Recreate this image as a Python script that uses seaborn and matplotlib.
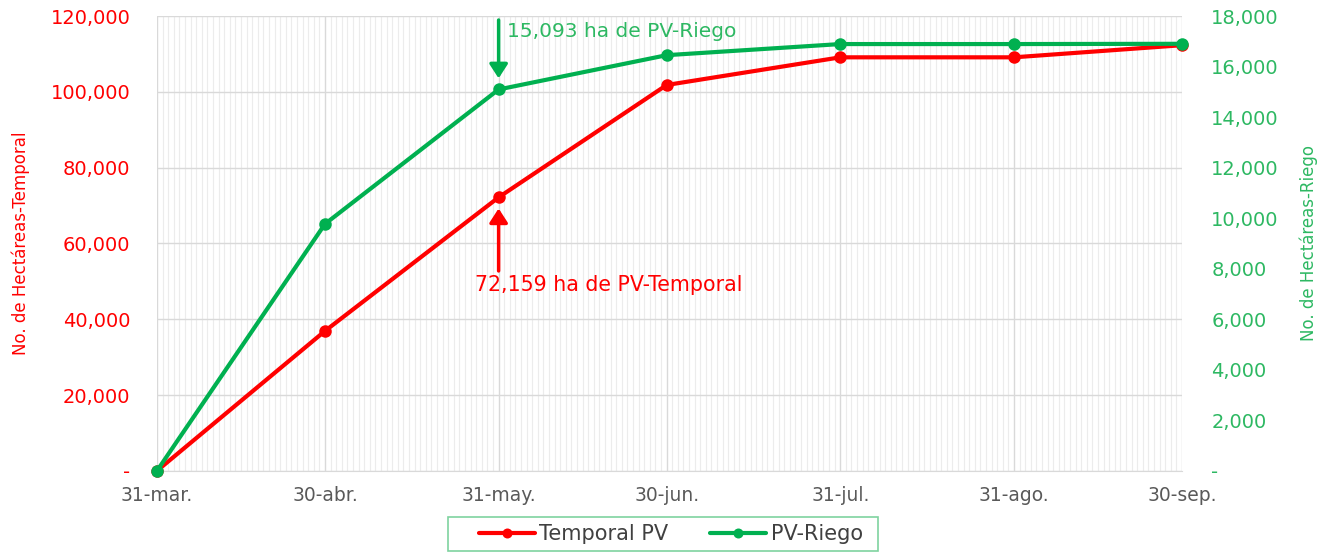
import pandas as pd
import matplotlib.pyplot as plt
import matplotlib.dates as mdates
from matplotlib.patches import Rectangle
from matplotlib.ticker import FuncFormatter
import seaborn as sns

fechas = ['2021-03-31', '2021-04-30', '2021-05-31', '2021-06-30',
          '2021-07-31', '2021-08-31', '2021-09-30']
etiquetas = ['31-mar.', '30-abr.', '31-may.', '30-jun.', '31-jul.', '31-ago.', '30-sep.']
temporal = [0, 36900, 72159, 101800, 109100, 109100, 112300]
riego = [0, 9770, 15093, 16450, 16890, 16890, 16900]

ROJO = '#FF0000'
VERDE = '#00B050'
VERDE_TXT = '#2DB862'
GRIS = '#595959'

df = pd.DataFrame({'fecha': pd.to_datetime(fechas), 'temporal': temporal, 'riego': riego})

sns.set_style('white')
plt.rcParams['font.family'] = ['DejaVu Sans']

W, H = 1330, 552
fig = plt.figure(figsize=(W / 100, H / 100), dpi=100)
ax = fig.add_axes([0.118, 0.147, 0.7707, 0.824])
ax2 = ax.twinx()

sns.lineplot(data=df, x='fecha', y='temporal', ax=ax, color=ROJO, linewidth=3,
             marker='o', markersize=9, markeredgewidth=0, label='Temporal PV',
             legend=False, clip_on=False, zorder=5)
sns.lineplot(data=df, x='fecha', y='riego', ax=ax2, color=VERDE, linewidth=3,
             marker='o', markersize=9, markeredgewidth=0, label='PV-Riego',
             legend=False, clip_on=False, zorder=5)

ax.set_xlim(df['fecha'].iloc[0], df['fecha'].iloc[-1])
ax.set_ylim(0, 120000)
ax2.set_ylim(0, 18000)
ax.set_yticks(range(0, 120001, 20000))
ax2.set_yticks(range(0, 18001, 2000))

fmt = FuncFormatter(lambda v, p: '-' if v == 0 else f'{v:,.0f}')
ax.yaxis.set_major_formatter(fmt)
ax2.yaxis.set_major_formatter(fmt)

ax.set_xticks(df['fecha'])
ax.set_xticklabels(etiquetas)
ax.xaxis.set_minor_locator(mdates.DayLocator())

# rejilla
ax.grid(True, which='major', color='#D9D9D9', linewidth=1)
ax.grid(True, which='minor', axis='x', color='#ECECEC', linewidth=0.8)
ax.set_axisbelow(True)
ax2.grid(False)

for a in (ax, ax2):
    for s in a.spines.values():
        s.set_visible(False)
ax.spines['bottom'].set_visible(True)
ax.spines['bottom'].set_color('#D9D9D9')

ax.tick_params(axis='x', which='major', length=6, color='#D9D9D9', labelsize=13.5,
               labelcolor=GRIS, pad=5)
ax.tick_params(axis='x', which='minor', length=0)
ax.tick_params(axis='y', length=0, labelsize=14, labelcolor=ROJO, pad=19)
ax2.tick_params(axis='y', length=0, labelsize=14, labelcolor=VERDE_TXT, pad=21)

ax.set_xlabel('')
ax.set_ylabel('No. de Hectáreas-Temporal', color=ROJO, fontsize=12, labelpad=15)
ax2.set_ylabel('No. de Hectáreas-Riego', color=VERDE_TXT, fontsize=12, labelpad=15)

# anotaciones
flecha = '-|>,head_length=0.85,head_width=0.55'
ax2.annotate('', xy=(df['fecha'].iloc[2], riego[2]), xytext=(0, 50),
             textcoords='offset points',
             arrowprops=dict(arrowstyle=flecha, color=VERDE, lw=2.5,
                             shrinkA=0, shrinkB=8, mutation_scale=10))
ax2.annotate('15,093 ha de PV-Riego', xy=(df['fecha'].iloc[2], riego[2]),
             xytext=(6, 42), textcoords='offset points', ha='left', va='center',
             color=VERDE_TXT, fontsize=14.5)
ax.annotate('', xy=(df['fecha'].iloc[2], temporal[2]), xytext=(0, -53),
            textcoords='offset points',
            arrowprops=dict(arrowstyle=flecha, color=ROJO, lw=2.5,
                            shrinkA=0, shrinkB=8, mutation_scale=10))
ax.annotate('72,159 ha de PV-Temporal', xy=(df['fecha'].iloc[2], temporal[2]),
            xytext=(-17, -63), textcoords='offset points', ha='left', va='center',
            color=ROJO, fontsize=14.8)

# leyenda abajo, con marco propio
h1, l1 = ax.get_legend_handles_labels()
h2, l2 = ax2.get_legend_handles_labels()
leg = fig.legend(h1 + h2, l1 + l2, loc='center left',
                 bbox_to_anchor=(479 / W, 1 - 534 / H), ncol=2, fontsize=15,
                 frameon=False, handlelength=2.7, handletextpad=0.2,
                 columnspacing=2.0, borderpad=0, borderaxespad=0, markerscale=0.8)
for t in leg.get_texts():
    t.set_color('#404040')
fig.patches.append(Rectangle((448 / W, 1 - 551 / H), 430 / W, 34 / H,
                             transform=fig.transFigure, fill=False,
                             edgecolor='#7FD3A0', linewidth=1.2))

fig.savefig('out.png', dpi=100)
